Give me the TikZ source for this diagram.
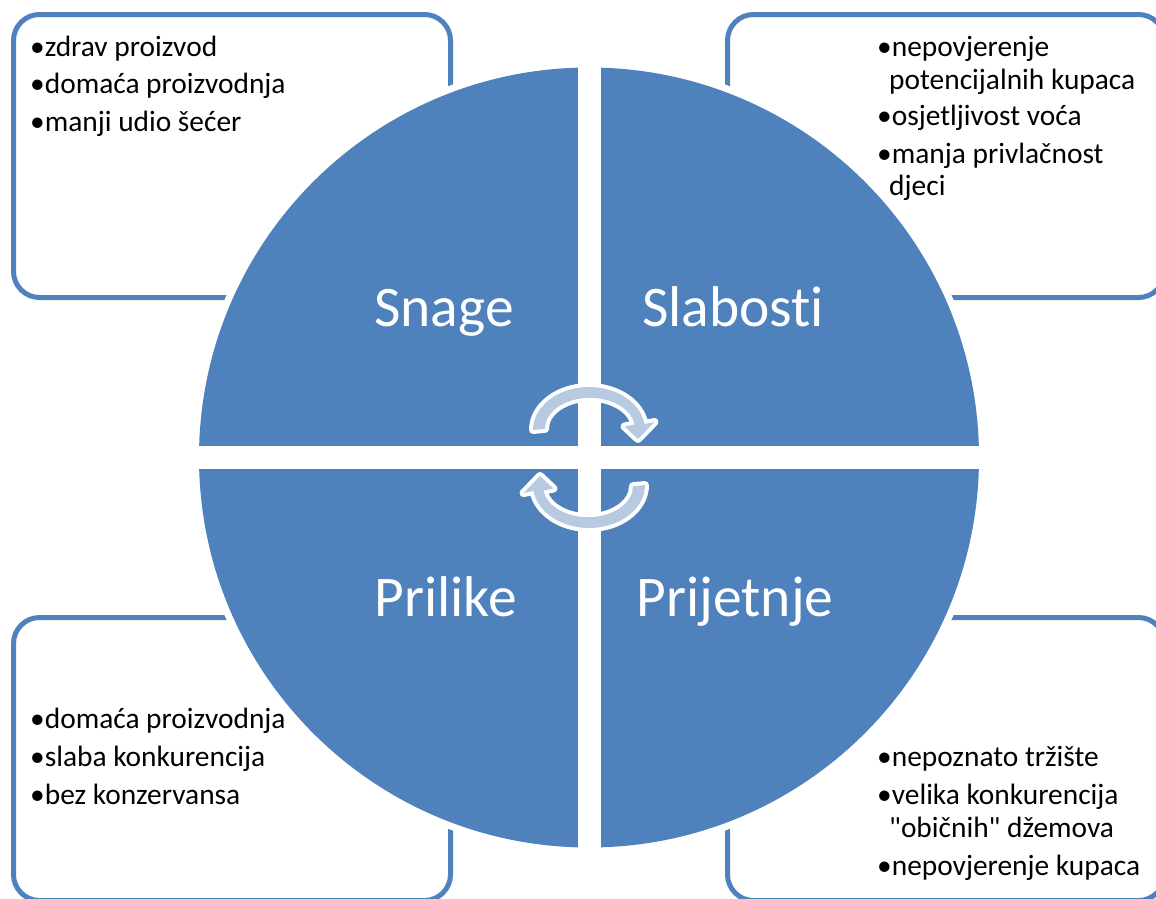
\documentclass[tikz,border=0pt]{standalone}
\usepackage{fontspec}
\setmainfont{Carlito}[Ligatures={TeXOff,NoCommon}]
\definecolor{swotblue}{RGB}{79,129,189}
\definecolor{arrowfill}{RGB}{184,201,226}
\tikzset{
  listbox/.style={draw=swotblue, line width=5pt, fill=white, rounded corners=26pt},
  quad/.style={fill=swotblue},
  label/.style={font=\fontsize{57.5}{60}\selectfont, text=white, anchor=base, inner sep=0pt},
  item/.style={font=\fontsize{29.4}{33}\selectfont, text=black, anchor=base west, inner sep=0pt},
  cyclearrow/.style={fill=arrowfill, preaction={draw=white, fill=white, line width=8pt, line join=round}}
}
\begin{document}
\begin{tikzpicture}[x=1pt, y=-1pt]
\useasboundingbox (0,0) rectangle (1156,898);
% boxes behind the circle
\begin{scope}
\clip (0,0) rectangle (1156,898);
\draw[listbox] (13.5,14.5) rectangle (450.5,297.5);
\draw[listbox] (727.5,14.5) rectangle (1164.5,297.5);
\draw[listbox] (13.5,617.5) rectangle (450.5,900.5);
\draw[listbox] (727.5,617.5) rectangle (1164.5,900.5);
\end{scope}
% circle with white halo
\fill[white] (589,457.5) circle[radius=397];
\begin{scope}
\clip (589,457.5) circle[radius=390];
\fill[quad] (577.5,446) rectangle (150,40);
\fill[quad] (600.5,446) rectangle (1030,40);
\fill[quad] (577.5,469) rectangle (150,880);
\fill[quad] (600.5,469) rectangle (1030,880);
\end{scope}
% cycle arrows
\path[cyclearrow] (533,430) arc[start angle=180, end angle=352, x radius=56, y radius=43]
  -- (654.4,422) -- (638,439) -- (624.6,426.5) -- (634.55,424.5)
  arc[start angle=352, end angle=180, x radius=45, y radius=31] -- cycle;
\begin{scope}[rotate around={180:(589,457.5)}]
\path[cyclearrow] (533,430) arc[start angle=180, end angle=352, x radius=56, y radius=43]
  -- (654.4,422) -- (638,439) -- (624.6,426.5) -- (634.55,424.5)
  arc[start angle=352, end angle=180, x radius=45, y radius=31] -- cycle;
\end{scope}
% quadrant labels
\node[label] (snage) at (444,326.7) {Snage};
\node[label] (slabosti) at (733,326.7) {Slabosti};
\node[label] (prilike) at (445.5,616.7) {Prilike};
\node[label] (prijetnje) at (735,616.7) {Prijetnje};
% strengths
\node[item] (s1) at (30,56.7) {•zdrav proizvod};
\node[item] (s2) at (30,93.5) {•domaća proizvodnja};
\node[item] (s3) at (30,131) {•manji udio šećer};
% weaknesses
\node[item] (w1) at (877,56.7) {•nepovjerenje};
\node[item] (w1b) at (889,89.3) {potencijalnih kupaca};
\node[item] (w2) at (877,125) {•osjetljivost voća};
\node[item] (w3) at (877,163.3) {•manja privlačnost};
\node[item] (w3b) at (889,195) {djeci};
% opportunities
\node[item] (o1) at (30,728.3) {•domaća proizvodnja};
\node[item] (o2) at (30,766.7) {•slaba konkurencija};
\node[item] (o3) at (30,804) {•bez konzervansa};
% threats
\node[item] (t1) at (877,766.7) {•nepoznato tržište};
\node[item] (t2) at (877,804) {•velika konkurencija};
\node[item] (t2b) at (889,837.3) {"običnih" džemova};
\node[item] (t3) at (877,875) {•nepovjerenje kupaca};
\end{tikzpicture}
\end{document}
